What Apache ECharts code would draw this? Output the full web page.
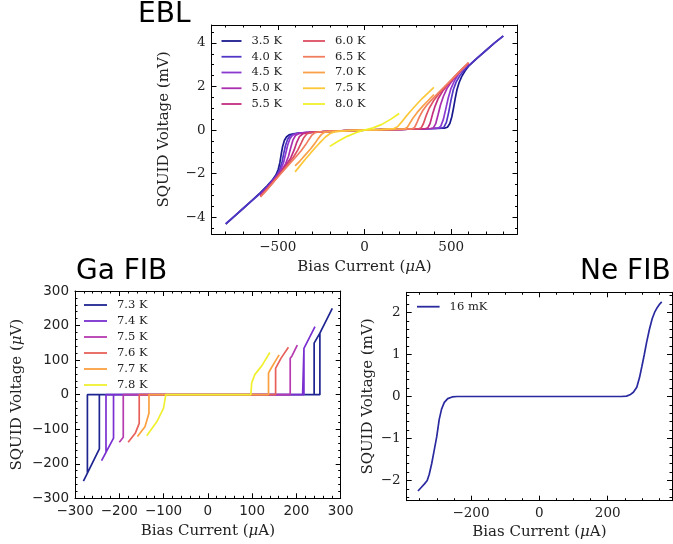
<!DOCTYPE html>
<html><head><meta charset="utf-8">
<script src="https://cdn.jsdelivr.net/npm/echarts@6/dist/echarts.min.js"></script>
<style>html,body{margin:0;padding:0;background:#fff}#c{width:673px;height:544px}</style>
</head><body><div id="c"></div>
<script>
// ---------------- DATA ----------------
// EBL panel: bias current (uA) vs SQUID voltage (mV)
const eblNames = ['3.5 K','4.0 K','4.5 K','5.0 K','5.5 K','6.0 K','6.5 K','7.0 K','7.5 K','8.0 K'];
const ebl35 = [[-800,-4.32],[-750,-3.96],[-700,-3.6],[-650,-3.24],[-600,-2.87],[-560,-2.55],[-530,-2.28],[-510,-2.05],[-497,-1.8],[-488,-1.5],[-480,-1.1],[-472,-0.75],[-462,-0.48],[-450,-0.32],[-435,-0.22],[-410,-0.17],[-380,-0.14],[-300,-0.1],[-200,-0.06],[-100,-0.03],[0,0],[100,0.02],[200,0.03],[300,0.05],[400,0.07],[460,0.09],[478,0.13],[492,0.3],[503,0.6],[513,1.0],[523,1.45],[533,1.85],[545,2.17],[560,2.45],[580,2.72],[600,2.93],[650,3.3],[700,3.65],[750,4.0],[800,4.32]];
const ebl40 = [[-800,-4.3],[-750,-3.95],[-700,-3.6],[-650,-3.25],[-600,-2.9],[-560,-2.58],[-530,-2.3],[-505,-2.05],[-488,-1.8],[-475,-1.45],[-465,-1.05],[-455,-0.7],[-443,-0.42],[-430,-0.27],[-410,-0.19],[-380,-0.15],[-300,-0.1],[-200,-0.06],[-100,-0.03],[0,0],[100,0.02],[200,0.03],[300,0.05],[400,0.07],[440,0.085],[458,0.13],[472,0.35],[485,0.8],[498,1.35],[512,1.85],[528,2.2],[550,2.5],[575,2.75],[600,2.96],[650,3.31],[700,3.66],[750,4.0],[800,4.31]];
const ebl45 = [[-600,-2.98],[-570,-2.72],[-540,-2.45],[-510,-2.15],[-485,-1.85],[-467,-1.5],[-455,-1.1],[-443,-0.7],[-430,-0.4],[-415,-0.24],[-395,-0.17],[-350,-0.12],[-300,-0.1],[-200,-0.06],[-100,-0.03],[0,0],[100,0.02],[200,0.03],[300,0.05],[400,0.07],[425,0.09],[440,0.18],[455,0.5],[468,0.95],[482,1.45],[498,1.9],[518,2.25],[545,2.6],[572,2.85],[600,3.04]];
const ebl50 = [[-600,-3.0],[-570,-2.75],[-540,-2.47],[-510,-2.18],[-480,-1.88],[-455,-1.55],[-438,-1.2],[-425,-0.8],[-412,-0.45],[-398,-0.25],[-378,-0.16],[-340,-0.12],[-300,-0.1],[-200,-0.06],[-100,-0.03],[0,0],[100,0.02],[200,0.03],[300,0.05],[380,0.07],[397,0.1],[410,0.28],[424,0.7],[438,1.15],[455,1.55],[475,1.9],[500,2.2],[530,2.5],[565,2.8],[600,3.06]];
const ebl55 = [[-600,-3.02],[-570,-2.77],[-540,-2.5],[-510,-2.2],[-480,-1.9],[-450,-1.58],[-425,-1.28],[-405,-0.9],[-390,-0.55],[-375,-0.3],[-355,-0.17],[-320,-0.12],[-200,-0.06],[-100,-0.03],[0,0],[100,0.02],[200,0.03],[300,0.05],[350,0.06],[365,0.1],[378,0.3],[392,0.72],[407,1.1],[425,1.45],[450,1.78],[480,2.08],[520,2.45],[560,2.78],[600,3.07]];
const ebl60 = [[-600,-3.05],[-560,-2.7],[-520,-2.33],[-480,-1.95],[-445,-1.6],[-410,-1.25],[-385,-0.92],[-365,-0.6],[-350,-0.35],[-333,-0.18],[-310,-0.11],[-200,-0.06],[-100,-0.03],[0,0],[100,0.02],[200,0.03],[310,0.05],[327,0.1],[340,0.3],[355,0.65],[373,1.0],[397,1.33],[430,1.68],[470,2.02],[510,2.35],[555,2.72],[600,3.08]];
const ebl65 = [[-600,-3.07],[-560,-2.72],[-520,-2.35],[-480,-1.98],[-440,-1.62],[-400,-1.27],[-365,-0.95],[-340,-0.68],[-320,-0.43],[-303,-0.23],[-285,-0.12],[-260,-0.08],[-200,-0.05],[-100,-0.02],[0,0],[150,0.02],[270,0.05],[287,0.1],[300,0.3],[315,0.58],[335,0.88],[360,1.15],[400,1.5],[450,1.9],[500,2.3],[550,2.7],[600,3.1]];
const ebl70 = [[-400,-1.64],[-370,-1.4],[-340,-1.13],[-310,-0.86],[-285,-0.6],[-265,-0.37],[-248,-0.2],[-230,-0.1],[-200,-0.07],[-100,-0.03],[0,0],[100,0.02],[200,0.04],[232,0.06],[247,0.13],[262,0.32],[280,0.55],[305,0.82],[340,1.13],[370,1.38],[400,1.63]];
const ebl75 = [[-400,-1.92],[-370,-1.62],[-340,-1.33],[-310,-1.05],[-280,-0.78],[-250,-0.52],[-225,-0.32],[-200,-0.17],[-175,-0.09],[-150,-0.06],[-100,-0.03],[0,0],[100,0.03],[170,0.07],[190,0.15],[210,0.33],[235,0.58],[265,0.86],[300,1.17],[335,1.47],[370,1.73],[400,1.96]];
const ebl80 = [[-200,-0.75],[-150,-0.5],[-100,-0.29],[-50,-0.12],[0,0],[50,0.1],[100,0.26],[150,0.49],[200,0.76]];
const eblSeries = [ebl35, ebl40, ebl45, ebl50, ebl55, ebl60, ebl65, ebl70, ebl75, ebl80];

// Ga FIB panel: bias current (uA) vs SQUID voltage (uV), hysteretic sweeps
const gaNames = ['7.3\u00a0K','7.4\u00a0K','7.5\u00a0K','7.6\u00a0K','7.7\u00a0K','7.8\u00a0K'];
const ga73 = [[281,250],[253,178],[240,149],[240,0],[-272,0],[-272,-227],[-281,-250],[-272,-227],[-245,-157],[-245,0],[253,0],[253,178],[281,250]];
const ga74 = [[242,197],[217,134],[214,129],[214,0],[-230,0],[-230,-167],[-240,-191],[-213,-126],[-213,0],[217,0],[217,134]];
const ga75 = [[202,143],[190,112],[186,105],[186,0],[-191,0],[-191,-123],[-200,-138]];
const ga76 = [[182,137],[165,105],[153,76],[153,0],[-155,0],[-155,-83],[-164,-112],[-180,-138]];
const ga77 = [[161,115],[150,92],[140,70],[137,62],[137,0],[-133,0],[-133,-54],[-142,-93],[-159,-121]];
const ga78 = [[140,122],[122,84],[106,58],[99,34],[97,0],[-95,0],[-100,-39],[-115,-78],[-138,-119]];
const gaSeries = [ga73, ga74, ga75, ga76, ga77, ga78];

// Ne FIB panel: bias current (uA) vs SQUID voltage (mV)
const neNames = ['16 mK'];
const ne16 = [[-355,-2.25],[-345,-2.16],[-336,-2.08],[-328,-2.0],[-322,-1.85],[-315,-1.6],[-308,-1.3],[-300,-0.95],[-293,-0.55],[-286,-0.3],[-278,-0.14],[-268,-0.05],[-255,-0.01],[-240,0],[-100,0],[0,0],[100,0],[240,0],[255,0.01],[265,0.04],[275,0.1],[285,0.22],[293,0.45],[300,0.72],[307,1.0],[314,1.3],[322,1.6],[330,1.85],[337,2.0],[345,2.12],[352,2.2],[358,2.25]];

// tick values
const eblXMajor = [-500,0,500];
const eblXMinor = [-800,-700,-600,-400,-300,-200,-100,100,200,300,400,600,700,800];
const eblYMajor = [-4,-2,0,2,4];
const eblYMinor = [-4.5,-3.5,-3,-2.5,-1.5,-1,-0.5,0.5,1,1.5,2.5,3,3.5,4.5];
const gaMajor = [-300,-200,-100,0,100,200,300];
const gaMinor = [-280,-260,-240,-220,-180,-160,-140,-120,-80,-60,-40,-20,20,40,60,80,120,140,160,180,220,240,260,280];
const neXMajor = [-200,0,200];
const neXMinor = [-350,-300,-250,-150,-100,-50,50,100,150,250,300,350];
const neYMajor = [-2,-1,0,1,2];
const neYMinor = [-2.4,-2.2,-1.8,-1.6,-1.4,-1.2,-0.8,-0.6,-0.4,-0.2,0.2,0.4,0.6,0.8,1.2,1.4,1.6,1.8,2.2,2.4];

// ---------------- STYLE ----------------
const eblColors = ['#1a1a8e','#5236c6','#8a3ad0','#a92fb0','#c22e80','#dd4f62','#f07d5e','#f9a04a','#fcc83a','#f0f02a'];
const gaColors = ['#1f2590','#7a2fd0','#b63ab0','#e8605a','#fba040','#f0f030'];
const neColors = ['#2a2aa0'];
const SERIF = 'DejaVu Serif', SANS = 'DejaVu Sans';
const fmt = v => { const s = String(Math.abs(v)); return v < 0 ? '\u2212' + s : s; };

function axisSet(dim, g, c) {
  const ls = {color:'#000', width:1};
  const posA = dim === 'x' ? 'bottom' : 'left';
  const posB = dim === 'x' ? 'top' : 'right';
  const base = {type:'value', gridIndex:g, min:c.min, max:c.max, splitLine:{show:false}, silent:true, scale:false};
  const nts = {fontFamily:SERIF, fontSize:15, color:'#222', rich:{i:{fontFamily:SERIF, fontStyle:'italic', fontSize:15, color:'#222'}}};
  return [
    Object.assign({}, base, {position:posA, axisLine:{show:true,onZero:false,lineStyle:ls},
      axisTick:{show:true,inside:true,length:5,customValues:c.major,lineStyle:ls},
      axisLabel:{show:true,customValues:c.major,formatter:fmt,margin:6,fontFamily:c.font,fontSize:13.5,color:'#222'},
      name:c.name, nameLocation:'middle', nameGap:c.nameGap, nameTextStyle:nts}),
    Object.assign({}, base, {position:posA, axisLine:{show:false,onZero:false},
      axisTick:{show:true,inside:true,length:2.5,customValues:c.minor,lineStyle:ls}, axisLabel:{show:false}}),
    Object.assign({}, base, {position:posB, axisLine:{show:true,onZero:false,lineStyle:ls},
      axisTick:{show:true,inside:true,length:5,customValues:c.major,lineStyle:ls}, axisLabel:{show:false}}),
    Object.assign({}, base, {position:posB, axisLine:{show:false,onZero:false},
      axisTick:{show:true,inside:true,length:2.5,customValues:c.minor,lineStyle:ls}, axisLabel:{show:false}})
  ];
}

const grids = [
  {left:211.5, top:25, width:306, height:209},
  {left:75, top:291, width:265.7, height:207.3},
  {left:406.7, top:292.3, width:265.3, height:208.4}
];
const xAxes = [].concat(
  axisSet('x', 0, {min:-882, max:882, major:eblXMajor, minor:eblXMinor, font:SERIF, name:'Bias Current ({i|\u03bc}A)', nameGap:26}),
  axisSet('x', 1, {min:-300, max:300, major:gaMajor, minor:gaMinor, font:SANS, name:'Bias Current ({i|\u03bc}A)', nameGap:25}),
  axisSet('x', 2, {min:-388, max:388, major:neXMajor, minor:neXMinor, font:SERIF, name:'Bias Current ({i|\u03bc}A)', nameGap:24})
);
const yAxes = [].concat(
  axisSet('y', 0, {min:-4.77, max:4.82, major:eblYMajor, minor:eblYMinor, font:SERIF, name:'SQUID Voltage (mV)', nameGap:40}),
  axisSet('y', 1, {min:-300, max:300, major:gaMajor, minor:gaMinor, font:SANS, name:'SQUID Voltage ({i|\u03bc}V)', nameGap:50}),
  axisSet('y', 2, {min:-2.48, max:2.48, major:neYMajor, minor:neYMinor, font:SERIF, name:'SQUID Voltage (mV)', nameGap:31})
);

const series = [];
function addSeries(names, datas, colors, g) {
  names.forEach((n, i) => {
    series.push({type:'line', name:n, data:datas[i], xAxisIndex:g*4, yAxisIndex:g*4,
      symbol:'none', showSymbol:false, clip:true, silent:true,
      lineStyle:{width:1.7, color:colors[i]}, itemStyle:{color:colors[i]}});
  });
}
addSeries(eblNames, eblSeries, eblColors, 0);
addSeries(gaNames, gaSeries, gaColors, 1);
addSeries(neNames, [ne16], neColors, 2);

function legendCfg(data, left, top, w, gap) {
  return {data:data, left:left, top:top, orient:'vertical', padding:0, icon:'rect', itemWidth:w, itemHeight:1.8, itemGap:gap,
    selectedMode:false, textStyle:{fontFamily:SERIF, fontSize:11.5, lineHeight:12, color:'#222', padding:[0,0,0,5]}};
}

const option = {
  animation:false,
  backgroundColor:'#fff',
  grid:grids,
  xAxis:xAxes,
  yAxis:yAxes,
  series:series,
  legend:[
    legendCfg(eblNames.slice(0,5), 221.5, 35, 20, 3.75),
    legendCfg(eblNames.slice(5), 303, 35, 22, 3.75),
    legendCfg(gaNames, 84, 299, 23, 4),
    legendCfg(neNames, 417, 300.7, 22.6, 4)
  ],
  graphic:[
    {type:'text', left:138, top:1, style:{text:'EBL', font:'28px "DejaVu Sans"', fill:'#000'}},
    {type:'text', left:76, top:258, style:{text:'Ga FIB', font:'28px "DejaVu Sans"', fill:'#000'}},
    {type:'text', left:580, top:258, style:{text:'Ne FIB', font:'28px "DejaVu Sans"', fill:'#000'}}
  ]
};
const chart = echarts.init(document.getElementById('c'));
chart.setOption(option);
</script>
</body></html>
